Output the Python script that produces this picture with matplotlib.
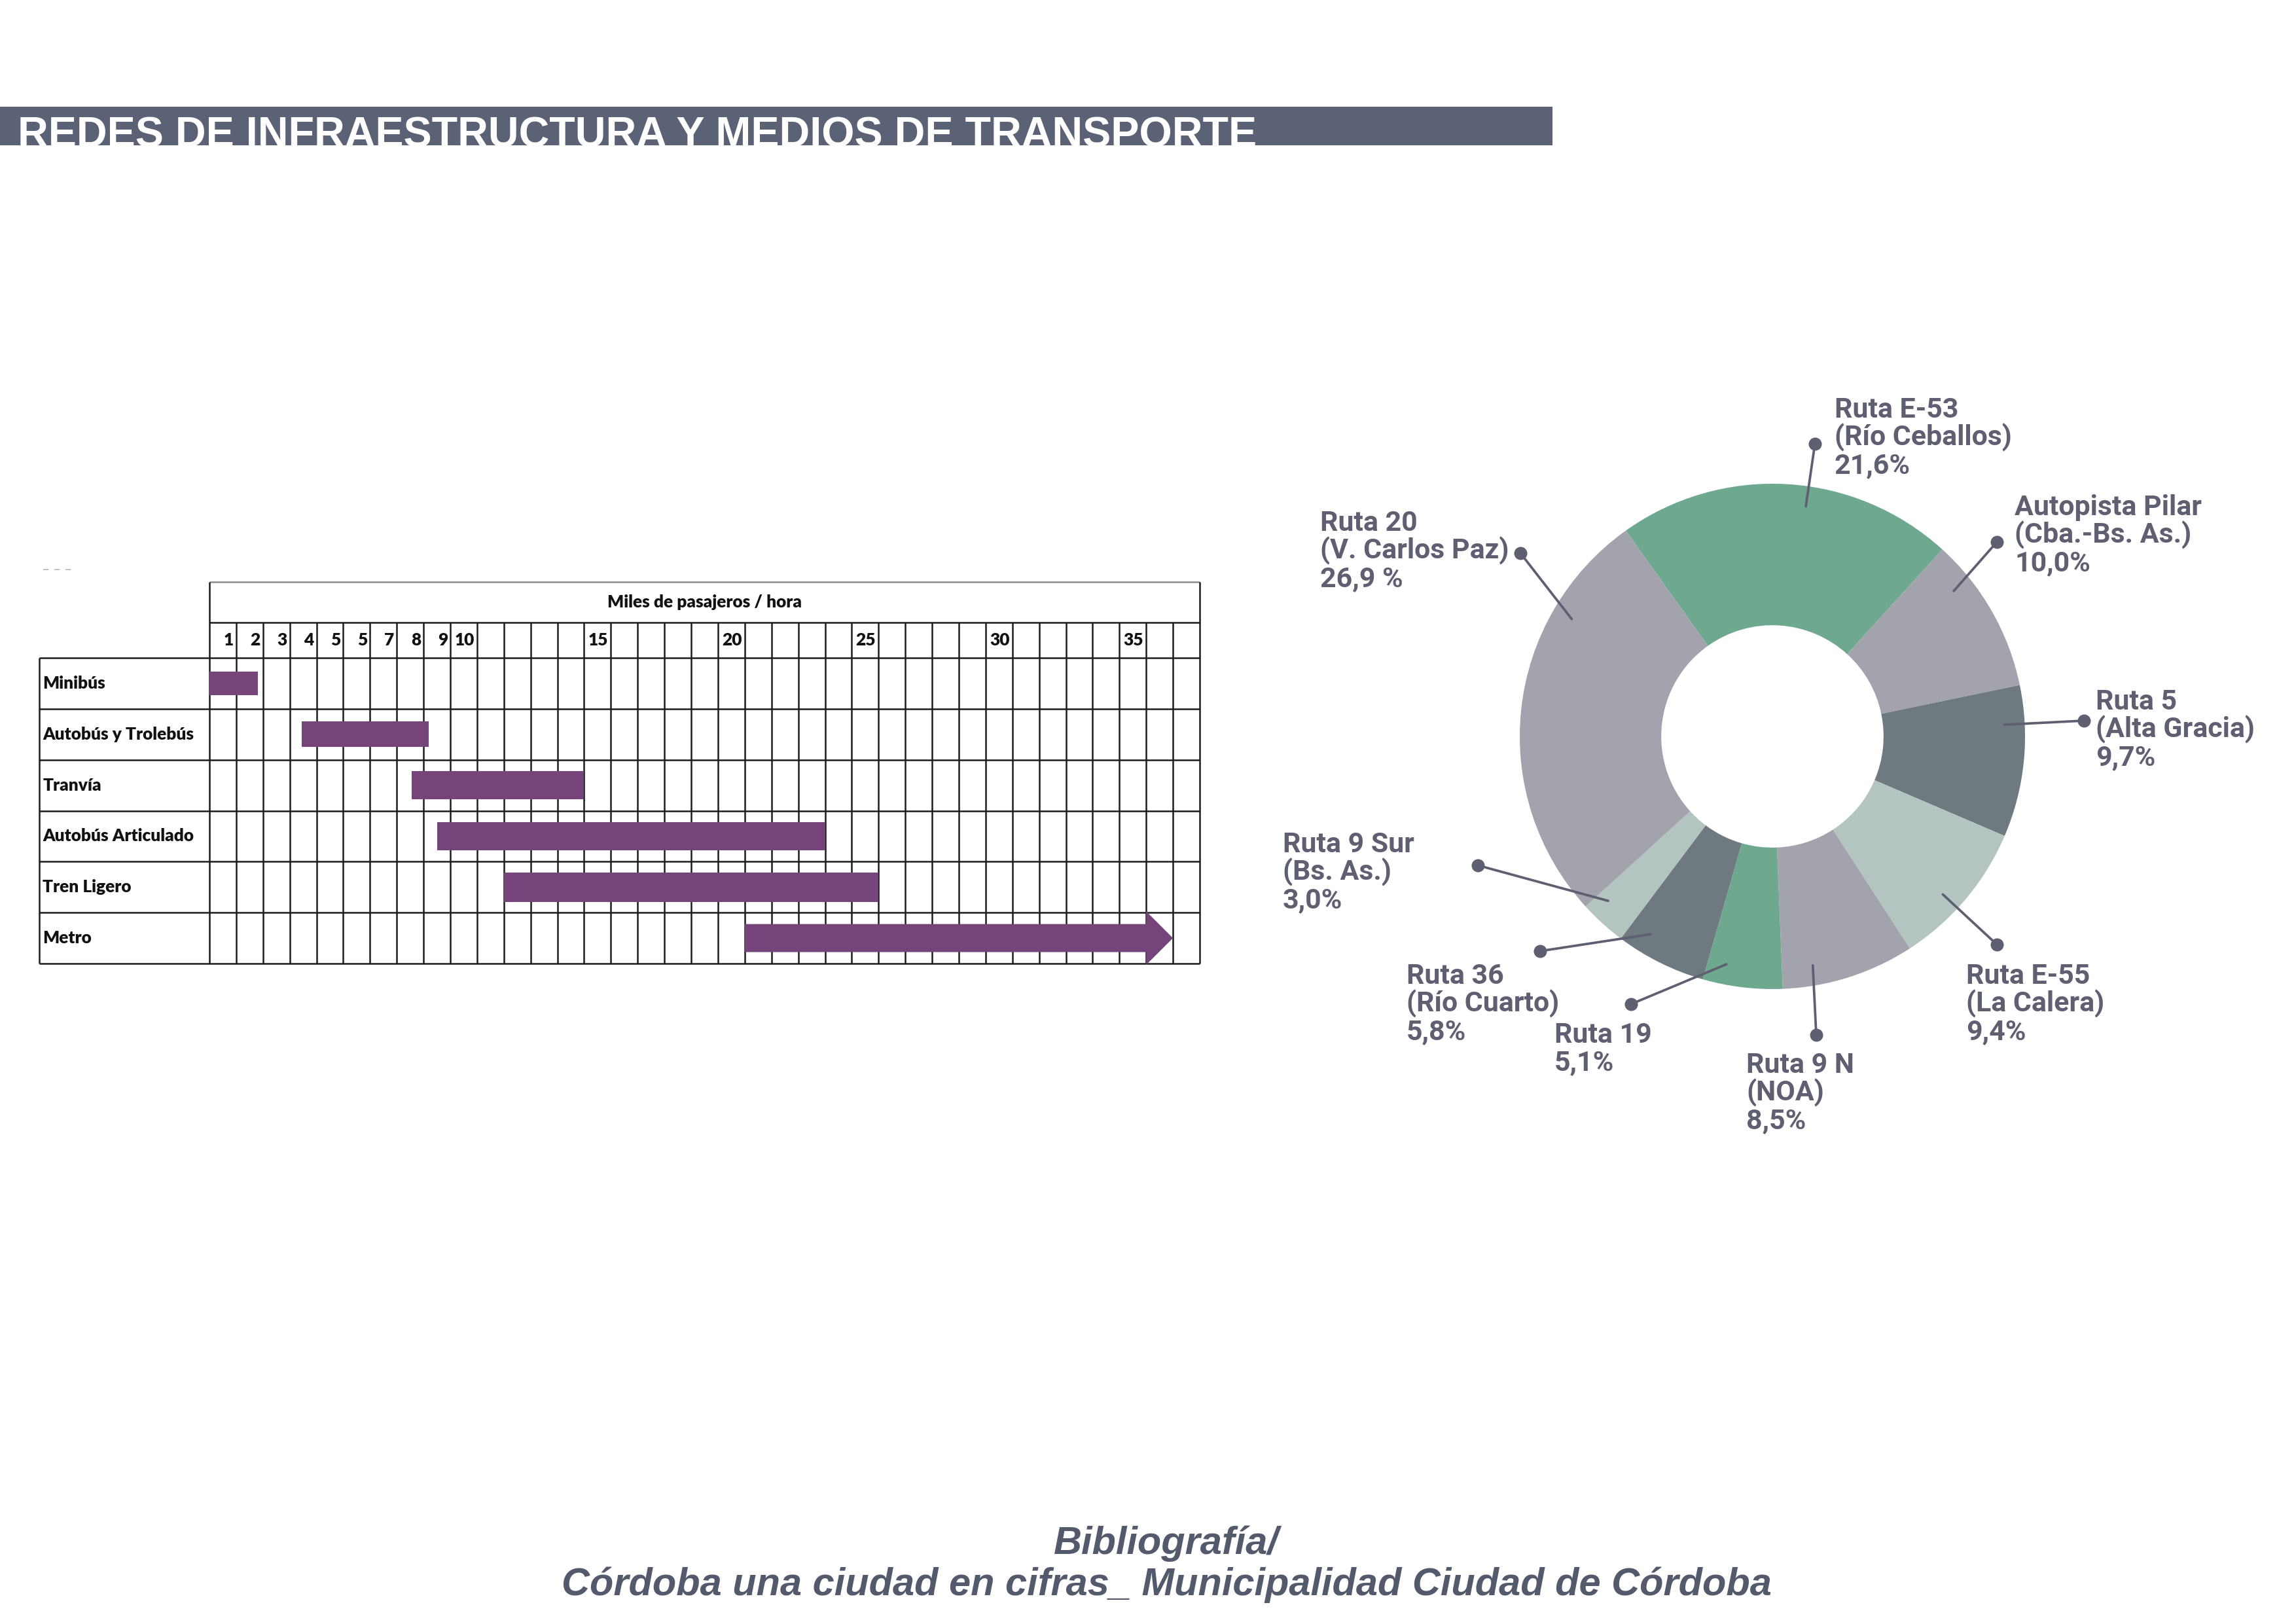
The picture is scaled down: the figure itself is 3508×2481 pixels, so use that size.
import matplotlib
matplotlib.use('Agg')
import matplotlib.pyplot as plt
import numpy as np
from matplotlib import font_manager as fm
from matplotlib.patches import Rectangle

# capacidad de cada modo (miles de pasajeros / hora)
modos = ['Minibús', 'Autobús y Trolebús', 'Tranvía', 'Autobús Articulado', 'Tren Ligero', 'Metro']
cap_min = [0, 3.45, 7.55, 8.5, 11, 20]
cap_max = [1.8, 8.2, 14, 23, 25, 36]
n_columnas = 37
col_num = [1, 2, 3, 4, 5, 6, 7, 8, 9, 10, 15, 20, 25, 30, 35]
col_txt = ['1', '2', '3', '4', '5', '5', '7', '8', '9', '10', '15', '20', '25', '30', '35']

# accesos a la ciudad (sentido horario desde arriba)
rutas = ['Ruta E-53\n(Río Ceballos)', 'Autopista Pilar\n(Cba.-Bs. As.)', 'Ruta 5\n(Alta Gracia)',
         'Ruta E-55\n(La Calera)', 'Ruta 9 N\n(NOA)', 'Ruta 19', 'Ruta 36\n(Río Cuarto)',
         'Ruta 9 Sur\n(Bs. As.)', 'Ruta 20\n(V. Carlos Paz)']
porcentaje = [21.6, 10.0, 9.7, 9.4, 8.5, 5.1, 5.8, 3.0, 26.9]
porcentaje_txt = ['21,6%', '10,0%', '9,7%', '9,4%', '8,5%', '5,1%', '5,8%', '3,0%', '26,9 %']

W, H = 3508, 2481
DPI = 300

verde = '#6ea88f'
gris = '#a2a3ad'
oscuro = '#6e7a80'
claro = '#b4c4c1'
colores = [verde, gris, oscuro, claro, gris, verde, oscuro, claro, gris]
morado = '#74447b'
gris_txt = '#5e6071'

nombres = {f.name for f in fm.fontManager.ttflist}


def fuente(*cands):
    for c in cands:
        if c in nombres:
            return c
    return 'DejaVu Sans'


f_titulo = fuente('Liberation Sans Narrow', 'Liberation Sans', 'DejaVu Sans')
f_tabla = fuente('Lato', 'Open Sans', 'DejaVu Sans')
f_rutas = fuente('Roboto', 'Liberation Sans', 'DejaVu Sans')
f_biblio = fuente('Liberation Sans', 'DejaVu Sans')

fig = plt.figure(figsize=(W / DPI, H / DPI), dpi=DPI, facecolor='white')
lienzo = fig.add_axes([0, 0, 1, 1])
lienzo.axis('off')
rend = fig.canvas.get_renderer()


def Y(y):
    # pixel desde arriba -> coordenada del lienzo
    return H - y


def ajustar(t, ancho_px):
    bb = t.get_window_extent(renderer=rend)
    t.set_fontsize(t.get_fontsize() * ancho_px / bb.width)


# ---- barra de titulo
barra = Rectangle((0, Y(222)), 2372, 59, color='#5b6275', lw=0)
lienzo.add_patch(barra)
tit = lienzo.text(27, Y(222), 'REDES DE INFRAESTRUCTURA Y MEDIOS DE TRANSPORTE', color='white',
                  fontfamily=f_titulo, fontweight='bold', fontsize=18, va='baseline')
ajustar(tit, 1891)
tam = tit.get_fontsize() * DPI / 72
tit.set_y(Y(178 + 0.72 * tam))
tit.set_clip_path(barra)

lienzo.text(65, Y(870), '– – –', fontsize=5, color='#b5b5b5', va='center')

# ---- tabla de capacidades
x0, xg, x1 = 60, 320, 1833
y0, yh, yn, y1 = 889, 951, 1005, 1472
ancho_col = (x1 - xg) / n_columnas
alto_fila = (y1 - yn) / len(modos)
lab = -(xg - x0) / ancho_col
top = -(yn - y0) / alto_fila
mid = -(yn - yh) / alto_fila

ax = fig.add_axes([x0 / W, 1 - y1 / H, (x1 - x0) / W, (y1 - y0) / H])
ax.set_xlim(lab, n_columnas)
ax.set_ylim(len(modos), top)
ax.axis('off')

k = dict(color='#1c1c1c', lw=0.6, clip_on=False, zorder=1)
ax.hlines(np.arange(len(modos) + 1), lab, n_columnas, **k)
ax.hlines(mid, 0, n_columnas, **k)
ax.hlines(top, 0, n_columnas, color='#8c8c8c', lw=0.6, clip_on=False, zorder=1)
ax.vlines(lab, 0, len(modos), **k)
ax.vlines([0, n_columnas], top, len(modos), **k)
ax.vlines(np.arange(1, n_columnas), mid, len(modos), **k)

filas = np.arange(len(modos)) + 0.5
alturas = [0.47, 0.5, 0.55, 0.55, 0.58]
ax.barh(filas[:5], np.subtract(cap_max[:5], cap_min[:5]), left=cap_min[:5], height=alturas,
        color=morado, zorder=3)
ax.arrow(cap_min[5], filas[5], cap_max[5] - cap_min[5], 0, width=0.55, head_width=1.05,
         head_length=1.0, length_includes_head=True, color=morado, lw=0, zorder=3, clip_on=False)

ft = dict(fontfamily=f_tabla, fontweight='heavy', fontsize=6.3, color='#111111')
for i, m in enumerate(modos):
    ax.text(lab + 0.13, filas[i], m, va='center', ha='left', **ft)
for c, s in zip(col_num, col_txt):
    ax.text(c - 0.1, mid / 2, s, va='center', ha='right', **ft)
ax.text(n_columnas / 2, (top + mid) / 2, 'Miles de pasajeros / hora', ha='center', va='center', **ft)

# ---- grafico de anillo
cx, cy, R = 2708, Y(1125), 386
giro = 3.4
inicio = 90 + porcentaje[0] * 3.6 / 2 - giro
cunas, _ = lienzo.pie(porcentaje, colors=colores, startangle=inicio, counterclock=False,
                      radius=R, center=(cx, cy), wedgeprops=dict(width=0.56 * R, linewidth=0))
lienzo.set_xlim(0, W)
lienzo.set_ylim(0, H)
lienzo.set_aspect('auto')

pos_texto = [(2803, 607), (3078, 756), (3202, 1053), (3004, 1472), (2668, 1608),
             (2375, 1562), (2149, 1472), (1960, 1271), (2017, 780)]
pos_punto = [(2773, 678), (3051, 828), (3184, 1101), (3051, 1443), (2775, 1581),
             (2492, 1534), (2353, 1453), (2258, 1322), (2323, 845)]

tam_r = 10.3
cap = 0.711 * tam_r * DPI / 72
fr = dict(fontfamily=f_rutas, fontweight='bold', fontsize=tam_r, color=gris_txt, va='baseline')
for i in range(len(rutas)):
    tx, ty = pos_texto[i]
    lineas = rutas[i].split('\n') + [porcentaje_txt[i]]
    for j, s in enumerate(lineas):
        lienzo.text(tx, Y(ty + cap + j * 43), s, **fr)

    # linea guia: desde dentro de la cuna hacia el punto
    w = cunas[i]
    th1, th2 = w.theta1, w.theta2
    px, py = pos_punto[i][0], Y(pos_punto[i][1])
    a = np.degrees(np.arctan2(py - cy, px - cx))
    centro = (th1 + th2) / 2
    a = centro + ((a - centro + 180) % 360 - 180)
    marg = 0.25 * (th2 - th1)
    a = np.clip(a, th1 + marg, th2 - marg)
    r = 0.92 * R
    sx, sy = cx + r * np.cos(np.radians(a)), cy + r * np.sin(np.radians(a))
    lienzo.plot([sx, px], [sy, py], color=gris_txt, lw=0.9, solid_capstyle='round', zorder=4)
    lienzo.plot(px, py, 'o', ms=3.8, color=gris_txt, zorder=5)

# ---- bibliografia
fb = dict(fontfamily=f_biblio, fontweight='bold', fontstyle='italic', color='#535a6b',
          ha='center', va='baseline')
b2 = lienzo.text(1782, Y(2437), 'Córdoba una ciudad en cifras_ Municipalidad Ciudad de Córdoba',
                 fontsize=13.5, **fb)
ajustar(b2, 1848)
lienzo.text(1782, Y(2374), 'Bibliografía/', fontsize=b2.get_fontsize(), **fb)

fig.savefig('out.png', dpi=DPI, facecolor='white')
